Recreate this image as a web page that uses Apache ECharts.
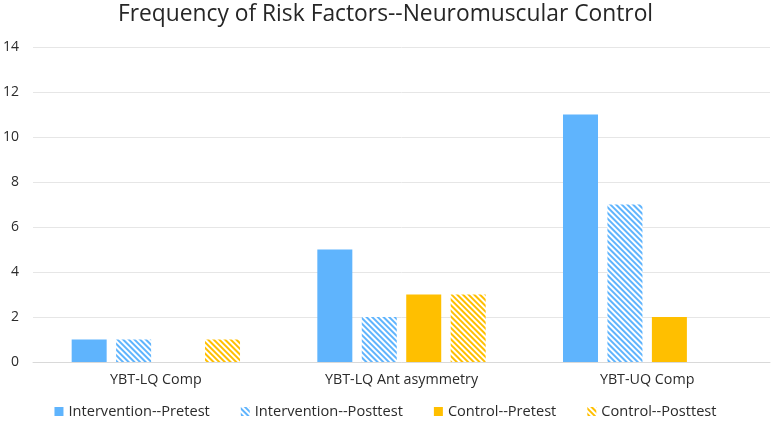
<!DOCTYPE html>
<html><head><meta charset="utf-8">
<script src="https://cdn.jsdelivr.net/npm/echarts@6/dist/echarts.min.js"></script>
<style>html,body{margin:0;padding:0;background:#fff}#c{width:771px;height:426px}</style>
</head><body><div id="c"></div>
<script>
const categories = ['YBT-LQ Comp', 'YBT-LQ Ant asymmetry', 'YBT-UQ Comp'];
const interventionPretest = [1, 5, 11];
const interventionPosttest = [1, 2, 7];
const controlPretest = [0, 3, 2];
const controlPosttest = [1, 3, 0];
const yTicks = [0, 14, 2];

const BLUE = '#5fb4fd', GOLD = '#ffbf00';
const font = "'Open Sans', sans-serif";
function stripe(c){ return {symbol:'rect', symbolSize:1, dashArrayX:[1,0], dashArrayY:[1.3,1.3], rotation:Math.PI/4, color:c}; }

const chart = echarts.init(document.getElementById('c'));
chart.setOption({
  animation:false,
  title:{text:'Frequency of Risk Factors--Neuromuscular Control', left:'center', top:-2,
    textStyle:{fontFamily:font, fontWeight:'normal', fontSize:22.8, color:'#262626'}},
  legend:{bottom:2, left:'center', itemWidth:9, itemHeight:9, itemGap:31, icon:'rect',
    textStyle:{fontFamily:font, fontSize:14.6, color:'#2b2b2b'}},
  grid:{left:32, right:1, top:47, bottom:64},
  xAxis:{type:'category', data:categories, axisTick:{show:false},
    axisLine:{lineStyle:{color:'#d9d9d9'}},
    axisLabel:{fontFamily:font, fontSize:14.3, color:'#2b2b2b', margin:11}},
  yAxis:{type:'value', min:yTicks[0], max:yTicks[1], interval:yTicks[2],
    axisLabel:{fontFamily:font, fontSize:14, color:'#2b2b2b', margin:14},
    splitLine:{lineStyle:{color:'#e6e6e6'}}},
  series:[
    {name:'Intervention--Pretest', type:'bar', data:interventionPretest, barWidth:35, barGap:'27%', itemStyle:{color:BLUE}},
    {name:'Intervention--Posttest', type:'bar', data:interventionPosttest, barWidth:35, itemStyle:{color:'#ffffff', decal:stripe(BLUE)}},
    {name:'Control--Pretest', type:'bar', data:controlPretest, barWidth:35, itemStyle:{color:GOLD}},
    {name:'Control--Posttest', type:'bar', data:controlPosttest, barWidth:35, itemStyle:{color:'#ffffff', decal:stripe(GOLD)}}
  ]
});
</script></body></html>
